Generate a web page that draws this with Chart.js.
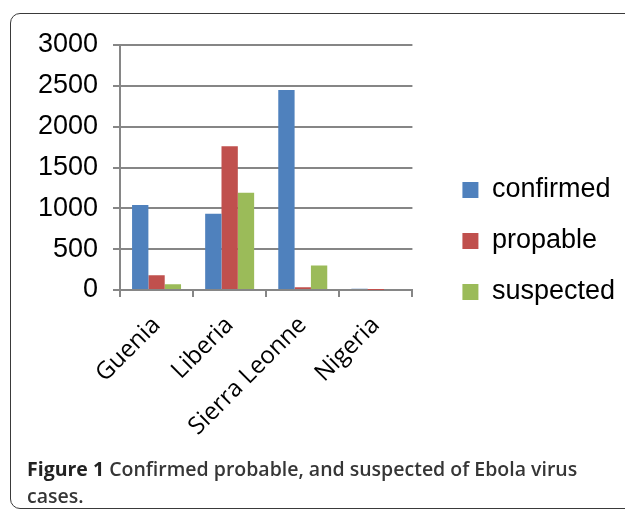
<!DOCTYPE html>
<html>
<head>
<meta charset="utf-8">
<script src="https://cdn.jsdelivr.net/npm/chart.js@4"></script>
<style>
    html, body { margin: 0; padding: 0; background: #fff; }
    body { width: 625px; height: 512px; position: relative; overflow: hidden; }
    #frame {
        position: absolute; left: 10px; top: 13px; width: 640px; height: 496px;
        border: 1.5px solid #3a3a3a; border-radius: 10px; box-sizing: border-box;
    }
    #wrap { position: absolute; left: 0; top: 0; width: 625px; height: 512px; }
    #caption {
        position: absolute; left: 27px; top: 455px; width: 580px;
        font-family: "Open Sans", sans-serif; font-weight: 600; font-size: 19.5px;
        line-height: 27px; color: #363636;
    }
    #caption b { font-weight: 700; color: #222; }
</style>
</head>
<body>
<div id="frame"></div>
<div id="wrap"><canvas id="chart-ebola"></canvas></div>
<div id="caption"><b>Figure 1</b> Confirmed probable, and suspected of Ebola virus cases.</div>
<script>
const countries = ["Guenia", "Liberia", "Sierra Leonne", "Nigeria"];
const confirmed = [1040, 935, 2450, 15];
const propable = [180, 1760, 35, 1];
const suspected = [70, 1190, 300, 0];
const yTicks = [0, 500, 1000, 1500, 2000, 2500, 3000];

const gridGray = 'rgb(134, 134, 134)';
const tickFont = { family: '"Liberation Sans", Arial, sans-serif', size: 27 };

const chartEbolaGet = document.getElementById("chart-ebola");
let chartEbolaRender = new Chart(chartEbolaGet, {
    type: 'bar',
    data: {
        labels: countries,
        datasets: [{
            label: 'confirmed',
            data: confirmed,
            backgroundColor: '#4F81BD'
        }, {
            label: 'propable',
            data: propable,
            backgroundColor: '#C0504D'
        }, {
            label: 'suspected',
            data: suspected,
            backgroundColor: '#9BBB59'
        }]
    },
    options: {
        responsive: true,
        maintainAspectRatio: false,
        animation: false,
        layout: { padding: { top: 45, right: 0, bottom: 75, left: 0 } },
        datasets: { bar: { barPercentage: 1, categoryPercentage: 0.67 } },
        plugins: {
            legend: {
                position: 'right',
                align: 'center',
                maxWidth: 240,
                labels: {
                    font: tickFont,
                    color: '#000',
                    boxWidth: 16,
                    boxHeight: 16,
                    padding: 24
                }
            },
            tooltip: { enabled: false }
        },
        scales: {
            x: {
                grid: {
                    offset: true,
                    drawOnChartArea: false,
                    color: gridGray,
                    lineWidth: 2,
                    tickLength: 7
                },
                border: { color: gridGray, width: 2 },
                ticks: {
                    font: { family: '"Open Sans", sans-serif', size: 24 },
                    color: '#000',
                    minRotation: 45,
                    maxRotation: 45,
                    padding: 14
                },
                afterFit: (scale) => { scale.height = 147; }
            },
            y: {
                min: 0,
                max: 3000,
                afterBuildTicks: (scale) => { scale.ticks = yTicks.map(v => ({ value: v })); },
                grid: { color: gridGray, lineWidth: 2, tickLength: 7 },
                border: { color: gridGray, width: 2 },
                ticks: { font: tickFont, color: '#000', padding: 15, callback: (v) => String(v) },
                afterFit: (scale) => { scale.width = 120; }
            },
            // empty gap between the plot and the legend
            gap: {
                position: 'right',
                display: true,
                grid: { display: false },
                border: { display: false },
                ticks: { display: false },
                afterFit: (scale) => { scale.width = 26; }
            }
        }
    }
});
</script>
</body>
</html>
